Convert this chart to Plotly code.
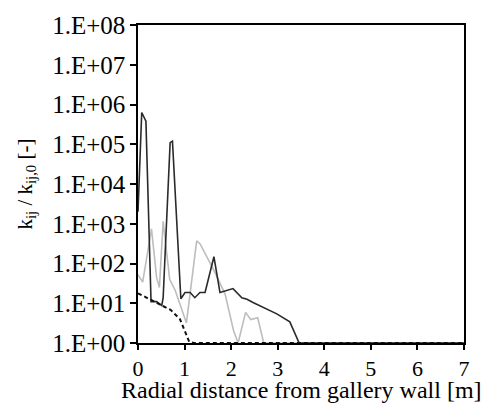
import plotly.graph_objects as go

# Data
black_x = [0, 0.08, 0.17, 0.28, 0.40, 0.51, 0.54, 0.69, 0.74, 0.92, 1.01, 1.12, 1.22, 1.33, 1.44,
           1.63, 1.76, 2.04, 2.23, 2.34, 2.47, 2.98, 3.26, 3.46, 7.0]
black_y = [2000, 6.3e5, 3.8e5, 11, 11, 8.7, 13.8, 1.1e5, 1.2e5, 13, 18.6, 18.6, 13.8, 18.6, 18.6,
           148, 18.6, 23.4, 13.8, 12.6, 10.5, 5.4, 3.4, 1, 1]

gray_x = [0, 0.1, 0.29, 0.4, 0.46, 0.54, 0.68, 0.8, 1.04, 1.26, 1.33, 1.62, 1.87, 2.05, 2.15,
          2.31, 2.42, 2.57, 2.7, 7.0]
gray_y = [52, 34, 740, 44, 25, 1150, 40, 21, 3.2, 370, 316, 71, 17, 2.1, 1,
          5.9, 3.9, 4.3, 1, 1]

dash_x = [0, 0.3, 0.5, 0.7, 0.9, 1.0, 1.1, 1.2, 7.0]
dash_y = [17.8, 11.7, 8.9, 6.8, 4.0, 2.0, 1.07, 1, 1]

y_tickvals = [1, 1e1, 1e2, 1e3, 1e4, 1e5, 1e6, 1e7, 1e8]
y_ticktext = ["1.E+00", "1.E+01", "1.E+02", "1.E+03", "1.E+04", "1.E+05", "1.E+06", "1.E+07", "1.E+08"]
x_tickvals = [0, 1, 2, 3, 4, 5, 6, 7]
x_title = "Radial distance from gallery wall [m]"
y_title = "k<sub>ij</sub> / k<sub>ij,0</sub> [-]"

FONT = "Liberation Serif, Times New Roman, serif"

fig = go.Figure()
fig.add_trace(go.Scatter(x=gray_x, y=gray_y, mode="lines",
                         line=dict(color="#bdbdbd", width=1.6), showlegend=False))
fig.add_trace(go.Scatter(x=black_x, y=black_y, mode="lines",
                         line=dict(color="#2a2a2a", width=1.6), showlegend=False))
fig.add_trace(go.Scatter(x=dash_x, y=dash_y, mode="lines",
                         line=dict(color="#111111", width=2, dash="4px,3px"), showlegend=False))

fig.update_layout(
    width=492, height=408,
    margin=dict(l=138, r=28, t=19, b=65),
    paper_bgcolor="white", plot_bgcolor="white",
    font=dict(family=FONT, size=24, color="black"),
    xaxis=dict(range=[0, 7], tickvals=x_tickvals, ticks="outside", ticklen=5, tickwidth=1.5,
               tickcolor="black", showline=True, linecolor="black", linewidth=1.5, mirror=True,
               showgrid=False, zeroline=False,
               tickfont=dict(family=FONT, size=22)),
    yaxis=dict(type="log", range=[0, 8], tickvals=y_tickvals, ticktext=y_ticktext,
               ticks="outside", ticklen=6, tickwidth=1.5, tickcolor="black",
               showline=True, linecolor="black", linewidth=1.5, mirror=True,
               showgrid=False, zeroline=False,
               tickfont=dict(family=FONT, size=25),
               title=dict(text=y_title, standoff=14,
                          font=dict(family=FONT, size=21))),
    annotations=[dict(text=x_title, xref="paper", yref="paper", x=0.5, y=-0.148,
                      xanchor="center", yanchor="middle", showarrow=False,
                      font=dict(family=FONT, size=24, color="black"))],
)

fig.write_html("out.html")
